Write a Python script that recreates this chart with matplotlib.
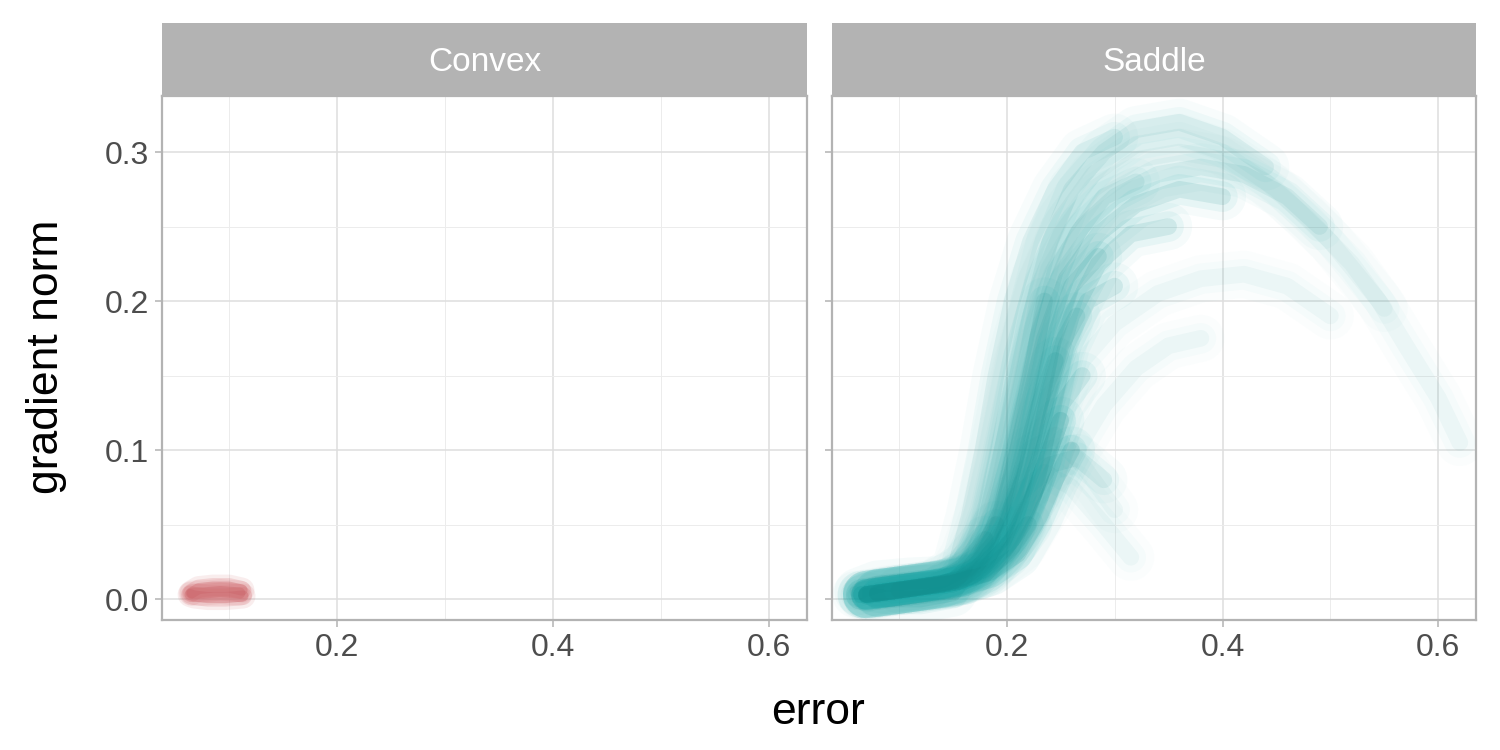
import matplotlib
matplotlib.use("Agg")
import matplotlib.pyplot as plt
from matplotlib.patches import Rectangle
from matplotlib.ticker import MultipleLocator

plt.rcParams['font.family'] = ['Liberation Sans', 'DejaVu Sans']

# trajectories: (error, gradient norm) waypoints
convex_paths = [
    ([0.112, 0.100, 0.085, 0.072, 0.065], [0.006, 0.008, 0.008, 0.007, 0.004]),
    ([0.113, 0.097, 0.080, 0.068, 0.064], [0.002, 0.001, 0.001, 0.002, 0.003]),
    ([0.110, 0.092, 0.076, 0.066], [0.004, 0.005, 0.004, 0.004]),
]
convex_runs = [3, 3, 3]

saddle_paths = [
    ([0.62, 0.60, 0.57, 0.545, 0.50, 0.45, 0.40, 0.36, 0.32, 0.28, 0.25, 0.225, 0.205, 0.19, 0.175, 0.16, 0.145, 0.12, 0.09, 0.065],
     [0.105, 0.135, 0.17, 0.20, 0.24, 0.275, 0.30, 0.31, 0.305, 0.285, 0.255, 0.215, 0.165, 0.11, 0.06, 0.03, 0.012, 0.009, 0.007, 0.003]),
    ([0.55, 0.52, 0.48, 0.44, 0.40, 0.36, 0.32, 0.28, 0.25, 0.23, 0.21, 0.195, 0.18, 0.165, 0.148, 0.12, 0.09, 0.065],
     [0.195, 0.225, 0.255, 0.28, 0.295, 0.30, 0.295, 0.275, 0.245, 0.21, 0.16, 0.11, 0.06, 0.03, 0.012, 0.008, 0.006, 0.002]),
    ([0.49, 0.46, 0.42, 0.38, 0.34, 0.30, 0.27, 0.245, 0.23, 0.215, 0.20, 0.185, 0.165, 0.13, 0.10, 0.07],
     [0.25, 0.27, 0.285, 0.29, 0.285, 0.27, 0.25, 0.22, 0.18, 0.13, 0.08, 0.04, 0.015, 0.009, 0.006, 0.003]),
    ([0.50, 0.46, 0.42, 0.38, 0.34, 0.30, 0.27, 0.25, 0.23, 0.21, 0.185, 0.15, 0.11, 0.075],
     [0.19, 0.21, 0.218, 0.215, 0.205, 0.185, 0.16, 0.12, 0.08, 0.045, 0.02, 0.01, 0.007, 0.003]),
    ([0.38, 0.35, 0.32, 0.29, 0.265, 0.24, 0.215, 0.185, 0.15, 0.11, 0.07],
     [0.175, 0.17, 0.155, 0.13, 0.10, 0.065, 0.035, 0.018, 0.01, 0.006, 0.002]),
    ([0.315, 0.29, 0.26, 0.235, 0.21, 0.19, 0.17, 0.15, 0.11, 0.07],
     [0.028, 0.05, 0.075, 0.085, 0.07, 0.04, 0.02, 0.011, 0.007, 0.003]),
    ([0.30, 0.27, 0.245, 0.22, 0.20, 0.18, 0.16, 0.12, 0.08],
     [0.06, 0.09, 0.11, 0.10, 0.06, 0.03, 0.013, 0.008, 0.004]),
    ([0.40, 0.36, 0.32, 0.285, 0.255, 0.235, 0.22, 0.205, 0.19, 0.17, 0.14, 0.10, 0.065],
     [0.27, 0.275, 0.265, 0.245, 0.215, 0.175, 0.13, 0.085, 0.045, 0.02, 0.01, 0.007, 0.003]),
    ([0.35, 0.315, 0.285, 0.26, 0.24, 0.225, 0.205, 0.185, 0.16, 0.12, 0.08],
     [0.25, 0.245, 0.225, 0.19, 0.14, 0.09, 0.05, 0.025, 0.012, 0.008, 0.004]),
    ([0.30, 0.275, 0.255, 0.24, 0.225, 0.205, 0.18, 0.145, 0.10, 0.07],
     [0.21, 0.20, 0.17, 0.12, 0.07, 0.035, 0.017, 0.01, 0.006, 0.002]),
    ([0.27, 0.25, 0.235, 0.215, 0.19, 0.16, 0.12, 0.08],
     [0.15, 0.13, 0.09, 0.05, 0.025, 0.012, 0.007, 0.003]),
    ([0.30, 0.27, 0.245, 0.222, 0.205, 0.19, 0.178, 0.165, 0.152, 0.13, 0.09, 0.06],
     [0.31, 0.30, 0.275, 0.24, 0.20, 0.15, 0.10, 0.055, 0.02, 0.01, 0.006, 0.003]),
    ([0.44, 0.40, 0.36, 0.32, 0.29, 0.26, 0.24, 0.222, 0.207, 0.193, 0.178, 0.16, 0.13, 0.10, 0.07],
     [0.29, 0.31, 0.32, 0.315, 0.30, 0.275, 0.24, 0.19, 0.14, 0.09, 0.045, 0.02, 0.01, 0.007, 0.003]),
    ([0.26, 0.245, 0.23, 0.21, 0.185, 0.16, 0.12, 0.08],
     [0.10, 0.08, 0.055, 0.03, 0.018, 0.012, 0.008, 0.004]),
    ([0.25, 0.24, 0.225, 0.205, 0.18, 0.15, 0.11, 0.07],
     [0.12, 0.10, 0.07, 0.04, 0.02, 0.01, 0.006, 0.003]),
    ([0.245, 0.23, 0.215, 0.20, 0.18, 0.155, 0.12, 0.08],
     [0.16, 0.13, 0.09, 0.05, 0.025, 0.012, 0.008, 0.004]),
    ([0.285, 0.26, 0.242, 0.228, 0.213, 0.195, 0.168, 0.13, 0.09, 0.065],
     [0.23, 0.21, 0.17, 0.12, 0.07, 0.035, 0.015, 0.009, 0.005, 0.003]),
    ([0.32, 0.29, 0.265, 0.242, 0.225, 0.21, 0.195, 0.175, 0.15, 0.11, 0.07],
     [0.28, 0.27, 0.245, 0.205, 0.155, 0.10, 0.055, 0.025, 0.012, 0.007, 0.003]),
    ([0.29, 0.265, 0.24, 0.22, 0.20, 0.175, 0.14, 0.10],
     [0.08, 0.095, 0.09, 0.065, 0.035, 0.017, 0.01, 0.006]),
    ([0.22, 0.20, 0.175, 0.15, 0.12, 0.09, 0.07],
     [0.05, 0.03, 0.016, 0.011, 0.008, 0.005, 0.003]),
    ([0.19, 0.17, 0.15, 0.12, 0.09, 0.07],
     [0.05, 0.025, 0.004, 0.0, 0.0, 0.002]),
    ([0.18, 0.16, 0.14, 0.11, 0.08, 0.062],
     [0.04, 0.022, 0.013, 0.012, 0.010, 0.005]),
    ([0.265, 0.25, 0.235, 0.215, 0.195, 0.17, 0.14, 0.10, 0.07],
     [0.19, 0.17, 0.13, 0.08, 0.04, 0.018, 0.01, 0.006, 0.003]),
    ([0.235, 0.225, 0.21, 0.195, 0.175, 0.15, 0.11, 0.07],
     [0.2, 0.16, 0.11, 0.06, 0.028, 0.012, 0.007, 0.003]),
]
# rough number of runs following each path (density of the cloud)
saddle_runs = [1, 1, 2, 1, 1, 1, 1, 3, 3, 3, 3, 2, 2, 4, 4, 3, 3, 2, 2, 3, 3, 3, 3, 3]

panels = ["Convex", "Saddle"]
colors = ["#d2696e", "#1aabab"]
edge_colors = ["#c85f64", "#0f8888"]

fig = plt.figure(figsize=(15, 7.5), dpi=100)
ax1 = fig.add_axes([0.108, 0.1733, 0.430, 0.6987])
ax2 = fig.add_axes([0.5547, 0.1733, 0.4293, 0.6987], sharey=ax1)


def draw(ax, paths, runs, color, dark, alpha, widths):
    # stacked widths give the soft, fuzzy edge of the point clouds
    for (xs, ys), n in zip(paths, runs):
        a = 1 - (1 - alpha) ** n
        for lw, f, c in zip(widths, [0.35, 0.6, 1.0], [color, color, dark]):
            ax.plot(xs, ys, color=c, lw=lw, alpha=a * f, solid_capstyle='round',
                    solid_joinstyle='round', zorder=3)


draw(ax1, convex_paths, convex_runs, colors[0], edge_colors[0], 0.13, [18, 13, 8])
draw(ax2, saddle_paths, saddle_runs, colors[1], edge_colors[1], 0.04, [34, 22, 12])

strip_h = 0.0973 / 0.6987
for ax, name in zip([ax1, ax2], panels):
    ax.set_xlim(0.038, 0.635)
    ax.set_ylim(-0.0141, 0.3376)
    ax.xaxis.set_major_locator(MultipleLocator(0.2))
    ax.xaxis.set_minor_locator(MultipleLocator(0.1))
    ax.yaxis.set_major_locator(MultipleLocator(0.1))
    ax.yaxis.set_minor_locator(MultipleLocator(0.05))
    ax.grid(which='major', color='#dedede', lw=1.1, zorder=0)
    ax.grid(which='minor', color='#ececec', lw=0.7, zorder=0)
    ax.set_axisbelow(True)
    for s in ax.spines.values():
        s.set_color('#b3b3b3')
        s.set_linewidth(1.6)
    ax.tick_params(which='major', color='#b3b3b3', length=5, width=1.1,
                   labelsize=23, labelcolor='#4d4d4d', pad=4)
    ax.tick_params(which='minor', length=0)
    ax.xaxis.set_major_formatter(plt.FuncFormatter(lambda v, p: f"{v:.1f}"))
    ax.yaxis.set_major_formatter(plt.FuncFormatter(lambda v, p: f"{v:.1f}"))
    # facet strip
    ax.add_patch(Rectangle((0, 1.0), 1, strip_h, transform=ax.transAxes,
                           fc='#b3b3b3', ec='none', clip_on=False, zorder=4))
    ax.text(0.5, 1.0 + strip_h * 0.46, name, transform=ax.transAxes, ha='center',
            va='center', fontsize=24, color='white', zorder=5)

plt.setp(ax2.get_yticklabels(), visible=False)

fig.text(0.545, 0.05, "error", ha='center', va='center', fontsize=32)
fig.text(0.031, 0.524, "gradient norm", ha='center', va='center', fontsize=32,
         rotation=90)

fig.savefig("out.png", dpi=100)
